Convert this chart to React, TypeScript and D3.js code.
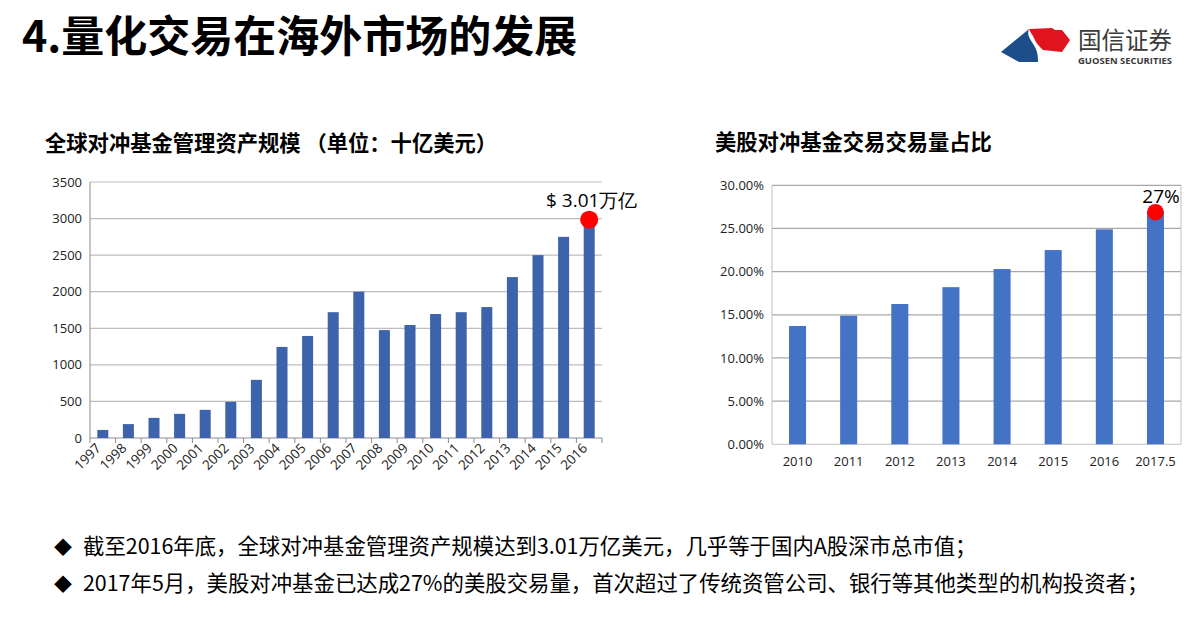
import React from "react";
import * as d3 from "d3";

const aumYears = ["1997","1998","1999","2000","2001","2002","2003","2004","2005","2006","2007","2008","2009","2010","2011","2012","2013","2014","2015","2016"];
const aumValues = [110,190,275,330,385,495,795,1245,1395,1720,2000,1475,1545,1695,1720,1790,2200,2500,2750,3010];
const aumTicks = [0,500,1000,1500,2000,2500,3000,3500];

const shareYears = ["2010","2011","2012","2013","2014","2015","2016","2017.5"];
const shareValues = [0.137,0.149,0.1625,0.182,0.203,0.225,0.249,0.27];
const shareTicks = [0,0.05,0.1,0.15,0.2,0.25,0.3];

const pageTitle = "4.量化交易在海外市场的发展";
const leftTitle = "全球对冲基金管理资产规模 （单位：十亿美元）";
const rightTitle = "美股对冲基金交易交易量占比";
const leftNote = "$ 3.01万亿";
const rightNote = "27%";
const bullets = [
  "截至2016年底，全球对冲基金管理资产规模达到3.01万亿美元，几乎等于国内A股深市总市值；",
  "2017年5月，美股对冲基金已达成27%的美股交易量，首次超过了传统资管公司、银行等其他类型的机构投资者；",
];

const CJK = "'Noto Sans CJK SC', 'Noto Sans', sans-serif";
const NUM = "'Open Sans', 'Noto Sans', sans-serif";

export default function App() {
  // Left chart
  const lx = d3.scaleBand<string>().domain(aumYears).range([90, 602]).paddingInner(0.57).paddingOuter(0.285);
  const ly = d3.scaleLinear().domain([0, 3500]).range([438, 182]);
  // Right chart
  const rx = d3.scaleBand<string>().domain(shareYears).range([772, 1181]).paddingInner(0.667).paddingOuter(0.333);
  const ry = d3.scaleLinear().domain([0, 0.3]).range([444.3, 185.3]);
  const pct = d3.format(".2%");

  const lastL = aumYears[aumYears.length - 1];
  const lastR = shareYears[shareYears.length - 1];
  const lStep = lx.step();

  return (
    <svg width={1192} height={617} style={{ position: "absolute", left: 0, top: 0, background: "#fff" }}>
      <rect x={0} y={0} width={1192} height={617} fill="#fff" />
      {/* Page title */}
      <text x={22} y={52} fontFamily={CJK} fontWeight={700} fontSize={43} fill="#000">{pageTitle}</text>

      {/* Logo */}
      <g>
        <path d="M1001,52 L1029,29 C1026,36 1032,41 1035,47 C1038,53 1038,58 1038,62 L1019,62 Z" fill="#1d4e8a" />
        <path d="M1029,29 L1052,28 L1055,30 L1062,30 L1070,40 L1062,52 L1043,50 C1039,46 1036,43 1034,38 C1032,34 1030,32 1029,29 Z" fill="#e0141e" />
        <text x={1078} y={49} fontFamily={CJK} fontSize={23.5} fill="#3a3a3a">国信证券</text>
        <text x={1078} y={64} fontFamily={NUM} fontWeight={700} fontSize={9.5} fill="#3a3a3a" textLength={94} lengthAdjust="spacingAndGlyphs">GUOSEN SECURITIES</text>
      </g>

      {/* Left chart title */}
      <text x={45} y={151} fontFamily={CJK} fontWeight={700} fontSize={21.3} fill="#000">{leftTitle}</text>

      {/* Left chart gridlines */}
      {aumTicks.map((t) => (
        <g key={"lg" + t}>
          {t > 0 && <line x1={90} x2={602} y1={ly(t)} y2={ly(t)} stroke="#bdbdbd" strokeWidth={1.2} />}
          <text x={82} y={ly(t)} dy="0.35em" textAnchor="end" fontFamily={NUM} fontSize={13} fill="#222">{t}</text>
        </g>
      ))}
      <line x1={90} x2={90} y1={182} y2={438} stroke="#8c8c8c" />
      <line x1={90} x2={602} y1={438} y2={438} stroke="#8c8c8c" />
      {aumYears.map((y, i) => (
        <line key={"lt" + y} x1={90 + i * lStep} x2={90 + i * lStep} y1={438} y2={443} stroke="#8c8c8c" />
      ))}
      <line x1={602} x2={602} y1={438} y2={443} stroke="#8c8c8c" />
      {aumYears.map((y, i) => (
        <rect key={"lb" + y} x={lx(y)} y={ly(aumValues[i])} width={lx.bandwidth()} height={438 - ly(aumValues[i])} fill="#3c63ab" />
      ))}
      {aumYears.map((y) => {
        const cx = (lx(y) as number) + lx.bandwidth() / 2;
        return (
          <text key={"ll" + y} transform={`translate(${cx - 1},${449}) rotate(-45)`} textAnchor="end" fontFamily={NUM} fontSize={13.5} fill="#222">{y}</text>
        );
      })}
      <circle cx={(lx(lastL) as number) + lx.bandwidth() / 2} cy={ly(2985)} r={9} fill="#ff0000" />
      <text x={546} y={207} fontFamily={NUM} fontSize={19} fill="#000">{leftNote}</text>

      {/* Right chart title */}
      <text x={715} y={150} fontFamily={CJK} fontWeight={700} fontSize={21.3} fill="#000">{rightTitle}</text>

      {shareTicks.map((t) => (
        <g key={"rg" + t}>
          <line x1={772} x2={1181} y1={ry(t)} y2={ry(t)} stroke={t === 0 ? "#cfcfcf" : "#a8a8a8"} strokeWidth={1.2} />
          <text x={764} y={ry(t)} dy="0.35em" textAnchor="end" fontFamily={NUM} fontSize={13} fill="#222">{pct(t)}</text>
        </g>
      ))}
      <line x1={772} x2={772} y1={185.3} y2={444.3} stroke="#bfbfbf" />
      <line x1={1181} x2={1181} y1={185.3} y2={444.3} stroke="#bfbfbf" />
      {shareYears.map((y, i) => (
        <rect key={"rb" + y} x={rx(y)} y={ry(shareValues[i])} width={rx.bandwidth()} height={444.3 - ry(shareValues[i])} fill="#4472c4" />
      ))}
      {shareYears.map((y) => (
        <text key={"rl" + y} x={(rx(y) as number) + rx.bandwidth() / 2} y={466} textAnchor="middle" fontFamily={NUM} fontSize={13} fill="#222">{y}</text>
      ))}
      <circle cx={(rx(lastR) as number) + rx.bandwidth() / 2} cy={ry(0.27) + 1} r={8.3} fill="#ff0000" />
      <text x={1161} y={203} textAnchor="middle" fontFamily={NUM} fontSize={19} fill="#000">{rightNote}</text>

      {/* Bullets */}
      {bullets.map((b, i) => (
        <g key={"b" + i}>
          <text x={54} y={554 + i * 37} fontFamily={CJK} fontSize={18} fill="#000">◆</text>
          <text x={83} y={554 + i * 37} fontFamily={CJK} fontSize={21.4} fill="#000">{b}</text>
        </g>
      ))}
    </svg>
  );
}
